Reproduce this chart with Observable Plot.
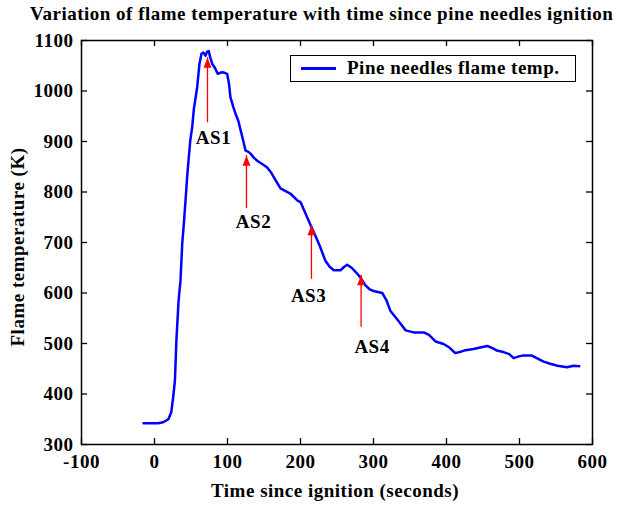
<!DOCTYPE html>
<html>
<head>
<meta charset="utf-8">
<script src="https://cdn.jsdelivr.net/npm/d3@7"></script>
<script src="https://cdn.jsdelivr.net/npm/@observablehq/plot@0.6"></script>
<style>
  body { margin: 0; background: white; }
  #wrap { position: relative; width: 618px; height: 505px; font-family: "Liberation Serif", "Times New Roman", serif; font-weight: bold; }
  .ov { position: absolute; white-space: nowrap; color: black; }
</style>
</head>
<body>
<div id="wrap"></div>
<script>
// Data
const timeSec = [-15, 5, 12, 19, 23, 25.6, 28, 30, 33, 35.6, 38, 40, 42.5, 44.7, 47, 49, 51.6, 54, 58.5, 61.6, 64.4, 67, 70, 72, 74.4, 76, 79, 83, 86.7, 90, 92.7, 96, 99.5, 102, 104, 108, 111, 115, 118, 121, 124.7, 128, 131.5, 136, 140.7, 148, 154, 160, 166, 172.6, 186, 196, 200, 207, 216, 220, 227, 234, 240, 245.6, 254.8, 260, 264, 270, 276, 282, 289, 295, 300, 312, 318, 323, 334, 344, 355, 369, 376, 385, 396, 404, 412, 418, 424, 437, 446, 456, 463, 469, 478, 486, 492, 498, 504, 517, 525, 533, 542, 552, 565, 574, 582];
const flameTemp = [342, 342, 344, 350, 364, 394, 427, 506, 585, 625, 698, 734, 783, 829, 869, 902, 928, 965, 1008, 1054, 1074, 1076, 1070, 1078, 1079, 1068, 1054, 1045, 1034, 1036, 1037, 1036, 1034, 1015, 988, 968, 955, 940, 922, 905, 882, 880, 876, 868, 862, 855, 849, 838, 823, 807, 797, 783, 780, 757, 727, 715, 691, 664, 652, 645, 645, 652, 656, 650, 641, 631, 615, 607, 604, 600, 585, 565, 545, 526, 522, 522, 517, 504, 499, 492, 481, 483, 486, 489, 492, 495, 491, 486, 483, 479, 471, 474, 476, 476, 470, 464, 460, 456, 453, 456, 455];

const arrowNames = ["AS1", "AS2", "AS3", "AS4"];
const arrowTime = [72.6, 126, 215, 283];
const arrowBase = [937, 767, 627, 532];
const arrowTip = [1066, 872, 734, 635];
const labelTime = [80.8, 135.6, 211, 298];
const labelTemp = [908, 740, 595, 494];

const xTicks = [-100, 0, 100, 200, 300, 400, 500, 600];
const yTicks = [300, 400, 500, 600, 700, 800, 900, 1000, 1100];

const titleText = "Variation of flame temperature with time since pine needles ignition";
const xLabel = "Time since ignition (seconds)";
const yLabel = "Flame temperature (K)";
const legendText = "Pine needles flame temp.";

const series = timeSec.map((t, i) => ({t, T: flameTemp[i]}));
const arrows = arrowNames.map((n, i) => ({name: n, t: arrowTime[i], base: arrowBase[i], tip: arrowTip[i], lt: labelTime[i], lT: labelTemp[i]}));

const fmt = d => String(d);
const FS = 19;
const LS = "0.5px";
const TK = 6;
const W = 618, H = 505, MT = 40, MB = 61, ML = 81, MR = 26;
const FH = H - MT - MB, FW = W - ML - MR;

const chart = Plot.plot({
  width: W,
  height: H,
  marginTop: MT,
  marginBottom: MB,
  marginLeft: ML,
  marginRight: MR,
  style: {fontFamily: "'Liberation Serif', 'Times New Roman', serif", fontWeight: "bold", fontSize: FS + "px", color: "black", background: "white", letterSpacing: LS},
  x: {domain: [-100, 600]},
  y: {domain: [300, 1100]},
  marks: [
    Plot.axisX(xTicks, {anchor: "bottom", tickSize: 0, tickPadding: 10, label: null, tickFormat: fmt, fontSize: FS, fontWeight: "bold"}),
    Plot.axisY(yTicks, {anchor: "left", tickSize: 0, tickPadding: 8, label: null, tickFormat: fmt, fontSize: FS, fontWeight: "bold"}),
    Plot.ruleX(xTicks, {x: d => d, insetTop: FH - TK, stroke: "black", strokeWidth: 1.3}),
    Plot.ruleX(xTicks, {x: d => d, insetBottom: FH - TK, stroke: "black", strokeWidth: 1.3}),
    Plot.ruleY(yTicks, {y: d => d, insetRight: FW - TK, stroke: "black", strokeWidth: 1.3}),
    Plot.ruleY(yTicks, {y: d => d, insetLeft: FW - TK, stroke: "black", strokeWidth: 1.3}),
    Plot.frame({stroke: "black", strokeWidth: 1.5}),
    Plot.line(series, {x: "t", y: "T", stroke: "#0000ff", strokeWidth: 2.5, curve: "linear"}),
    Plot.ruleX(arrows, {x: "t", y1: "base", y2: "tip", stroke: "#ff0000", strokeWidth: 1.3}),
    Plot.vector(arrows, {x: "t", y: "tip", length: 10, r: 4, rotate: 0, shape: "spike", anchor: "end", fill: "#ff0000", stroke: "none"}),
    Plot.text(arrows, {x: "lt", y: "lT", text: "name", fontSize: FS, fontWeight: "bold", fill: "black"})
  ]
});

const wrap = document.getElementById("wrap");
wrap.appendChild(chart);

function addDiv(text, css) {
  const d = document.createElement("div");
  d.className = "ov";
  d.textContent = text;
  Object.assign(d.style, css);
  wrap.appendChild(d);
  return d;
}
addDiv(titleText, {left: "30px", top: "3px", fontSize: FS + "px", letterSpacing: LS});
addDiv(xLabel, {left: "335px", top: "480px", fontSize: FS + "px", letterSpacing: LS, transform: "translateX(-50%)"});
addDiv(yLabel, {left: "18px", top: "247px", fontSize: FS + "px", letterSpacing: LS, transform: "translate(-50%, -50%) rotate(-90deg)"});

// legend box
const leg = document.createElement("div");
leg.className = "ov";
Object.assign(leg.style, {left: "290px", top: "55px", width: "286px", height: "27px", border: "1.5px solid black", background: "white", boxSizing: "border-box"});
const sw = document.createElement("div");
Object.assign(sw.style, {position: "absolute", left: "10px", top: "11px", width: "35px", height: "2.5px", background: "#0000ff"});
leg.appendChild(sw);
const lt = document.createElement("div");
lt.textContent = legendText;
Object.assign(lt.style, {position: "absolute", left: "56px", top: "1px", fontSize: FS + "px", letterSpacing: LS, lineHeight: "22px"});
leg.appendChild(lt);
wrap.appendChild(leg);
</script>
</body>
</html>
